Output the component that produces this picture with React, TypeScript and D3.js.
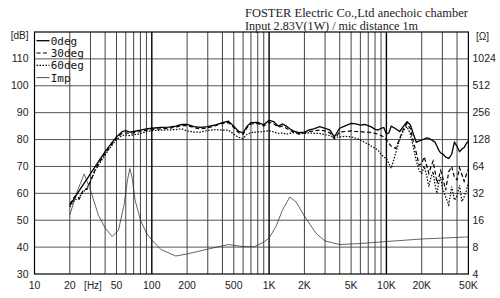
import React from "react";
import * as d3 from "d3";

const freqs = [20, 22, 24, 26, 28, 30, 33, 36, 40, 45, 50, 56, 60, 65, 70, 80, 90, 100, 120, 140, 160, 180, 200, 230, 260, 300, 350, 400, 450, 500, 550, 600, 650, 700, 800, 900, 1000, 1100, 1200, 1300, 1400, 1500, 1650, 1800, 2000, 2200, 2400, 2700, 3000, 3300, 3600, 4000, 4500, 5000, 5500, 6000, 6500, 7000, 7500, 8000, 8500, 9000, 9500, 10000, 10500, 11000, 12000, 13000, 14000, 15000, 16000, 17000, 18000, 19000, 20000, 21000, 22000, 23000, 24000, 25000, 26000, 27000, 28000, 29000, 30000, 32000, 34000, 36000, 38000, 40000, 42000, 44000, 46000, 48000, 50000];

const spl0 = [55.5, 58.4, 60.9, 63.2, 65.3, 67.3, 70, 72.5, 75.5, 78.5, 81, 83, 83.3, 82.8, 83, 83.5, 84, 84.2, 84.5, 84.6, 85, 85.6, 85.6, 84.8, 84.5, 84.8, 85.5, 86.3, 86.8, 85, 83, 82.5, 85, 86.3, 86.4, 85.5, 87.2, 86.6, 85, 85.8, 85, 84, 83, 82.6, 82.8, 83.6, 84, 84.8, 84.2, 83.5, 81, 84.2, 85.2, 86, 85.8, 85.4, 85.6, 85.2, 84.6, 83.8, 83.5, 84.2, 84.5, 82, 82.5, 85, 84, 83, 85, 86.6, 85.5, 82, 79, 79.5, 79.8, 80.2, 80.6, 80.4, 80, 79.5, 79, 77.5, 76, 75, 74.8, 73.5, 73, 74.5, 79, 77.5, 75.5, 76.5, 77, 78.5, 79.5];

const spl30 = [56, 58.8, 57.8, 61.2, 61.5, 64.5, 69, 71.8, 74.8, 78, 80.5, 82.3, 82.5, 82.3, 82.5, 83, 83.5, 83.8, 84, 84.2, 84.6, 85.2, 85.2, 84.4, 84, 84.4, 85.2, 86, 86.3, 84.5, 82.5, 82, 84.5, 85.8, 86, 85, 86.5, 85.8, 84.6, 85, 84.2, 83.5, 82.5, 82, 82.5, 83, 83.2, 83.5, 83.2, 82.5, 80.3, 82.8, 83, 83.2, 83, 83, 82.8, 82.8, 82.5, 82.3, 82, 81.5, 81, 80, 78.6, 77.5, 76.7, 80.5, 84, 86, 84, 79, 75, 70.5, 71, 73.6, 70.5, 67.4, 70, 72, 68, 63.7, 66, 68.5, 66.5, 61.2, 68, 70, 66, 65, 69.5, 67, 64.5, 67, 69];

const spl60 = [55, 57.5, 58.5, 60.5, 62, 64.5, 68.5, 71.2, 74.3, 77.5, 80, 81.5, 81.7, 81.5, 81.8, 82.2, 83, 83.3, 83.5, 83.6, 83.7, 84, 83.2, 82.8, 82.8, 83.4, 83.7, 83.5, 83.5, 82, 80.8, 80.4, 82, 82.6, 82.8, 83, 83.3, 82.8, 82.3, 82.5, 82, 82.3, 82.6, 82.3, 82.3, 82.5, 82.3, 82.3, 81.8, 81.5, 80.8, 81, 81.2, 81, 80.5, 79.8, 79, 78.3, 77.5, 76.8, 76, 74.5, 73.5, 73, 71, 69.3, 75, 80, 83.5, 84.8, 82, 77, 72, 68.5, 67.4, 70, 66.7, 62.5, 66, 68, 63, 60, 64, 66, 62, 58.7, 55.7, 62.5, 57.5, 59, 63, 57, 58.7, 61, 64];

const impFreqs = [20, 23, 26.5, 30, 35, 40, 46, 52, 58, 62, 65, 68, 72, 80, 90, 100, 120, 160, 200, 300, 450, 600, 750, 900, 1000, 1150, 1300, 1500, 1700, 2000, 2500, 3000, 4000, 6000, 10000, 20000, 50000];
const impOhms = [18.3, 33.1, 52.6, 34.8, 18.3, 13.1, 10.5, 12.4, 23.7, 45, 60.6, 47.5, 26.9, 16.1, 11.5, 9.6, 7.5, 6.36, 6.7, 7.6, 8.55, 8.1, 8.1, 9.12, 10.1, 13.8, 20.8, 29.1, 25.6, 17.8, 11.5, 9.36, 8.55, 8.78, 9.24, 9.86, 10.4];

const dbTicks = [30, 40, 50, 60, 70, 80, 90, 100, 110];
const ohmTicks = [4, 8, 16, 32, 64, 128, 256, 512, 1024];
const xTickVals = [10, 20, 50, 100, 200, 500, 1000, 2000, 5000, 10000, 20000, 50000];
const xTickLabels = ["10", "20", "50", "100", "200", "500", "1K", "2K", "5K", "10K", "20K", "50K"];
const legendLabels = ["0deg", "30deg", "60deg", "Imp"];

const W = 500, H = 298;
const X0 = 34.5, X1 = 468.4, YT = 32, YB = 274;

export default function App() {
  const x = d3.scaleLog().domain([10, 50000]).range([X0, X1]);
  const y = d3.scaleLinear().domain([30, 120]).range([YB, YT]);
  const yI = d3.scaleLog().base(2).domain([4, 2048]).range([YB, YT]);

  const gridF: number[] = [];
  for (let k = 1; k <= 4; k++) {
    for (let m = 1; m <= 9; m++) {
      const f = m * Math.pow(10, k);
      if (f > 10 && f < 50000) gridF.push(f);
    }
  }

  const splLine = d3.line<number>().x((_, i) => x(freqs[i])).y((d) => y(d));
  const impLine = d3.line<number>().x((_, i) => x(impFreqs[i])).y((d) => yI(d));

  const sans = "'Liberation Sans', Arial, sans-serif";
  const mono = "'DejaVu Sans Mono', monospace";
  const serif = "'Liberation Serif', 'Times New Roman', serif";

  const styles = [
    { dash: undefined, w: 1.3 },
    { dash: "4,2.5", w: 1.2 },
    { dash: "1.5,1.5", w: 1.2 },
    { dash: undefined, w: 0.7 },
  ];

  return (
    <svg width={W} height={H} style={{ position: "absolute", left: 0, top: 0, background: "#fff" }}>
      <rect x={0} y={0} width={W} height={H} fill="#fff" />
      {/* grid */}
      {dbTicks.slice(1).map((d) => (
        <line key={"h" + d} x1={X0} x2={X1} y1={y(d)} y2={y(d)} stroke="#555" strokeWidth={1} />
      ))}
      {gridF.map((f) => {
        const major = f === 100 || f === 1000 || f === 10000;
        return (
          <line key={"v" + f} x1={x(f)} x2={x(f)} y1={YT} y2={YB}
            stroke={major ? "#000" : "#444"} strokeWidth={major ? 1.4 : 1} />
        );
      })}
      <rect x={X0} y={YT} width={X1 - X0} height={YB - YT} fill="none" stroke="#000" strokeWidth={1.2} />

      {/* curves */}
      <path d={impLine(impOhms) || ""} fill="none" stroke="#222" strokeWidth={0.7} />
      <path d={splLine(spl60) || ""} fill="none" stroke="#000" strokeWidth={1.2} strokeDasharray="1.5,1.5" />
      <path d={splLine(spl30) || ""} fill="none" stroke="#000" strokeWidth={1.2} strokeDasharray="4,2.5" />
      <path d={splLine(spl0) || ""} fill="none" stroke="#000" strokeWidth={1.3} />

      {/* legend */}
      {legendLabels.map((l, i) => {
        const ly = 40.7 + i * 12.3;
        return (
          <g key={l}>
            <line x1={36.5} x2={49.5} y1={ly} y2={ly} stroke="#000" strokeWidth={styles[i].w}
              strokeDasharray={styles[i].dash} />
            <text x={50.7} y={ly + 4} fontFamily={mono} fontSize={11} fill="#111">{l}</text>
          </g>
        );
      })}

      {/* left axis labels */}
      <text x={28.5} y={39} textAnchor="end" fontFamily={sans} fontSize={10} fill="#222">[dB]</text>
      {dbTicks.map((d) => (
        <text key={"l" + d} x={28.5} y={y(d) + 3.6} textAnchor="end" fontFamily={sans} fontSize={10.5} fill="#222">{d}</text>
      ))}
      {/* right axis labels */}
      <text x={476} y={40} fontFamily={sans} fontSize={10} fill="#222">[Ω]</text>
      {ohmTicks.map((d) => (
        <text key={"r" + d} x={472.5} y={yI(d) + 3.6} fontFamily={sans} fontSize={10.5} fill="#222">{d}</text>
      ))}
      {/* x labels */}
      {xTickVals.map((f, i) => (
        <text key={"x" + f} x={x(f)} y={289} textAnchor="middle" fontFamily={sans} fontSize={10.5} fill="#222">{xTickLabels[i]}</text>
      ))}
      <text x={93} y={289} textAnchor="middle" fontFamily={sans} fontSize={10} fill="#222">[Hz]</text>

      {/* title */}
      <text x={245} y={17} fontFamily={serif} fontSize={12.5} fill="#222" textLength={223} lengthAdjust="spacingAndGlyphs">FOSTER Electric Co.,Ltd  anechoic chamber</text>
      <text x={245} y={29.5} fontFamily={serif} fontSize={12.5} fill="#222" textLength={173} lengthAdjust="spacingAndGlyphs">Input 2.83V(1W) / mic distance 1m</text>
    </svg>
  );
}
